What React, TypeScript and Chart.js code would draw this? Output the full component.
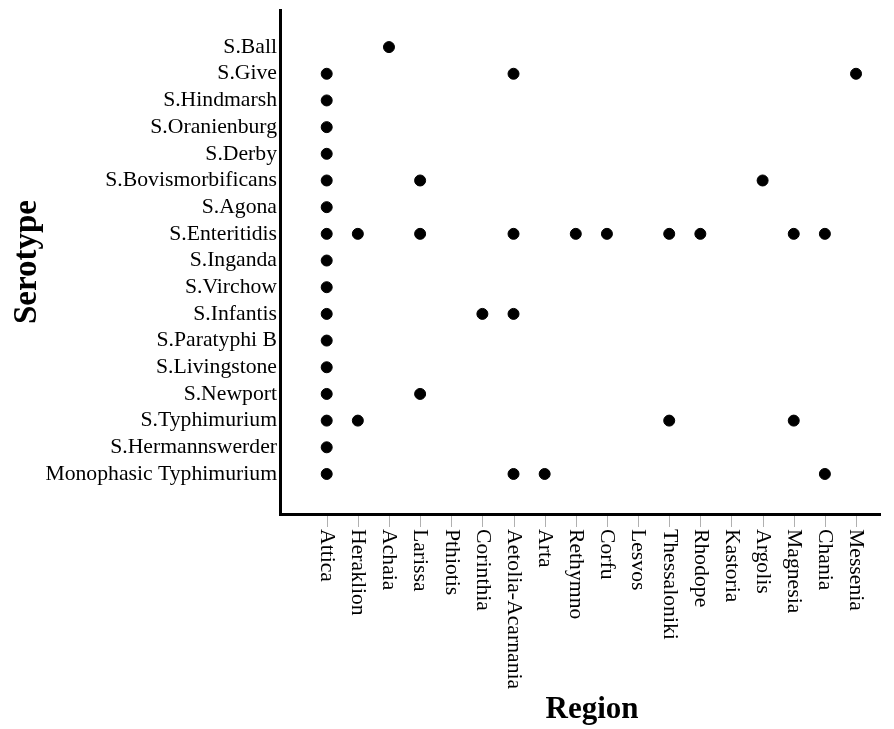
import React, { useEffect, useRef } from "react";
import { Chart, registerables } from "chart.js";

Chart.register(...registerables);

const regions = [
  "Attica", "Heraklion", "Achaia", "Larissa", "Pthiotis", "Corinthia",
  "Aetolia-Acarnania", "Arta", "Rethymno", "Corfu", "Lesvos", "Thessaloniki",
  "Rhodope", "Kastoria", "Argolis", "Magnesia", "Chania", "Messenia",
];

const serotypes = [
  "S.Ball", "S.Give", "S.Hindmarsh", "S.Oranienburg", "S.Derby",
  "S.Bovismorbificans", "S.Agona", "S.Enteritidis", "S.Inganda", "S.Virchow",
  "S.Infantis", "S.Paratyphi B", "S.Livingstone", "S.Newport", "S.Typhimurium",
  "S.Hermannswerder", "Monophasic Typhimurium",
];

// regions where each serotype was found (same order as serotypes)
const ballRegions = ["Achaia"];
const giveRegions = ["Attica", "Aetolia-Acarnania", "Messenia"];
const hindmarshRegions = ["Attica"];
const oranienburgRegions = ["Attica"];
const derbyRegions = ["Attica"];
const bovisRegions = ["Attica", "Larissa", "Argolis"];
const agonaRegions = ["Attica"];
const enteritidisRegions = ["Attica", "Heraklion", "Larissa", "Aetolia-Acarnania", "Rethymno", "Corfu", "Thessaloniki", "Rhodope", "Magnesia", "Chania"];
const ingandaRegions = ["Attica"];
const virchowRegions = ["Attica"];
const infantisRegions = ["Attica", "Corinthia", "Aetolia-Acarnania"];
const paratyphiRegions = ["Attica"];
const livingstoneRegions = ["Attica"];
const newportRegions = ["Attica", "Larissa"];
const typhimuriumRegions = ["Attica", "Heraklion", "Thessaloniki", "Magnesia"];
const hermannswerderRegions = ["Attica"];
const monophasicRegions = ["Attica", "Aetolia-Acarnania", "Arta", "Chania"];

const occurrences = [
  ballRegions, giveRegions, hindmarshRegions, oranienburgRegions, derbyRegions,
  bovisRegions, agonaRegions, enteritidisRegions, ingandaRegions, virchowRegions,
  infantisRegions, paratyphiRegions, livingstoneRegions, newportRegions,
  typhimuriumRegions, hermannswerderRegions, monophasicRegions,
];

const FONT = "'Liberation Serif', 'Times New Roman', serif";
const LABEL_SIZE = 21.7;

export default function App() {
  const ref = useRef<HTMLCanvasElement | null>(null);

  useEffect(() => {
    if (!ref.current) return;
    const points: { x: number; y: number }[] = [];
    occurrences.forEach((list, yi) => {
      list.forEach((r) => points.push({ x: regions.indexOf(r), y: yi }));
    });

    const xLabelsPlugin = {
      id: "xLabels",
      afterDraw(chart: any) {
        const { ctx, chartArea } = chart;
        const xs = chart.scales.x;
        ctx.save();
        regions.forEach((name, i) => {
          const x = xs.getPixelForValue(i);
          ctx.strokeStyle = "#b0b0b0";
          ctx.lineWidth = 1;
          ctx.beginPath();
          ctx.moveTo(Math.round(x) + 0.5, chartArea.bottom + 2);
          ctx.lineTo(Math.round(x) + 0.5, chartArea.bottom + 13);
          ctx.stroke();
          ctx.save();
          ctx.translate(x, chartArea.bottom + 15);
          ctx.rotate(Math.PI / 2);
          ctx.fillStyle = "#000";
          ctx.font = `${LABEL_SIZE}px ${FONT}`;
          ctx.textAlign = "left";
          ctx.textBaseline = "middle";
          ctx.fillText(name, 0, 0);
          ctx.restore();
        });
        ctx.fillStyle = "#000";
        ctx.font = `bold 31px ${FONT}`;
        ctx.textAlign = "center";
        ctx.textBaseline = "middle";
        ctx.fillText("Region", 592, 710);
        ctx.restore();
      },
    };

    const chart = new Chart(ref.current, {
      type: "scatter",
      data: {
        datasets: [
          {
            data: points,
            backgroundColor: "#000",
            borderColor: "#000",
            pointRadius: 5.5,
            pointHoverRadius: 5.5,
          },
        ],
      },
      options: {
        animation: false,
        responsive: false,
        layout: { padding: { top: 10, right: 14, left: 0, bottom: 0 } },
        plugins: { legend: { display: false }, tooltip: { enabled: false } },
        scales: {
          x: {
            type: "linear",
            min: -1.5,
            max: 17.77,
            grid: { display: false, drawTicks: false },
            border: { display: true, width: 3, color: "#000" },
            ticks: { display: false },
            afterFit(scale: any) {
              scale.height = 215;
              scale.paddingLeft = 0;
              scale.paddingRight = 0;
            },
          },
          y: {
            type: "linear",
            reverse: true,
            min: -1.39,
            max: 17.5,
            grid: { display: false, drawTicks: false },
            border: { display: true, width: 3, color: "#000" },
            afterBuildTicks(scale: any) {
              scale.ticks = serotypes.map((_, i) => ({ value: i }));
            },
            ticks: {
              autoSkip: false,
              padding: 3,
              color: "#000",
              font: { family: FONT, size: LABEL_SIZE },
              callback: (v: any) => serotypes[v as number] ?? "",
            },
            title: {
              display: true,
              text: "Serotype",
              color: "#000",
              font: { family: FONT, size: 33, weight: "bold" },
              padding: { top: 8, bottom: 0 },
            },
            afterFit(scale: any) {
              scale.width = 280;
              scale.paddingTop = 0;
              scale.paddingBottom = 0;
            },
          },
        },
      },
      plugins: [xLabelsPlugin],
    });
    return () => chart.destroy();
  }, []);

  return (
    <div style={{ position: "absolute", left: 0, top: 0, width: 894, height: 729, background: "#fff" }}>
      <canvas ref={ref} width={894} height={729} style={{ display: "block" }} />
    </div>
  );
}
